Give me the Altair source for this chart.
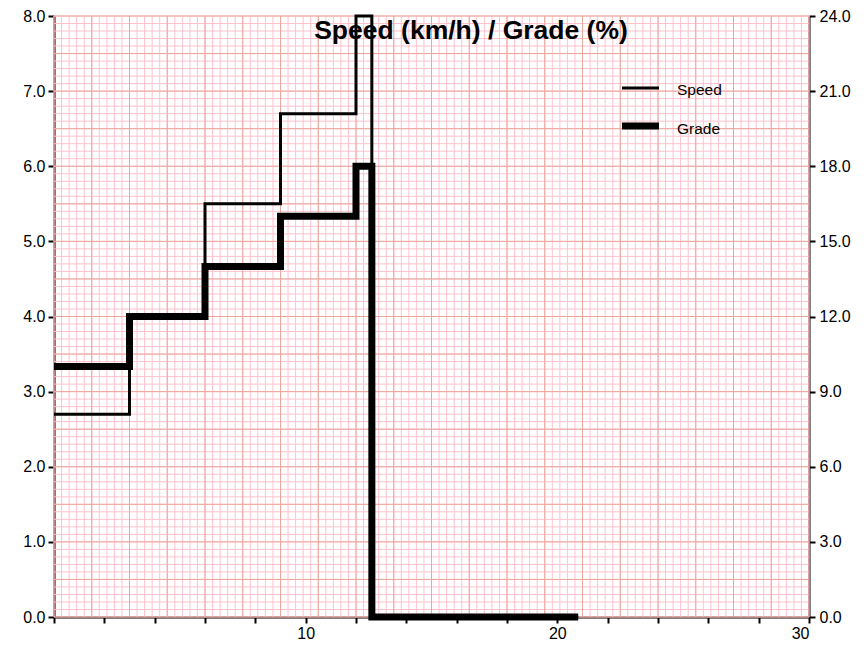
import altair as alt
import numpy as np
import pandas as pd

# ---- data ----
time_min = [0, 3, 6, 9, 12, 12.63, 20.83]
speed_kmh = [2.7, 4.0, 5.5, 6.7, 8.0, 0.0, 0.0]
grade_pct = [10, 12, 14, 16, 18, 0, 0]

x_tick_values = list(range(0, 31, 2))
speed_tick_values = [0, 1, 2, 3, 4, 5, 6, 7, 8]
grade_tick_values = [0, 3, 6, 9, 12, 15, 18, 21, 24]

title_text = "Speed (km/h) / Grade (%)"
legend_labels = ["Speed", "Grade"]

W, H = 755, 601
FONT = "Liberation Sans"

df = pd.DataFrame({"t": time_min, "speed": speed_kmh, "grade": grade_pct})

# graph-paper grid positions
vx_minor = pd.DataFrame({"v": np.round(np.arange(0, 30.0001, 0.3), 3)})
vx_major = pd.DataFrame({"v": np.round(np.arange(0, 30.0001, 1.5), 3)})
hy_minor = pd.DataFrame({"v": np.round(np.arange(0, 8.0001, 0.1), 3)})
hy_major = pd.DataFrame({"v": np.round(np.arange(0, 8.0001, 0.5), 3)})

xscale = alt.Scale(domain=[0, 30], nice=False, zero=False)
yscale_speed = alt.Scale(domain=[0, 8], nice=False)
yscale_grade = alt.Scale(domain=[0, 24], nice=False)

x_axis = alt.Axis(
    values=x_tick_values,
    labelExpr="(datum.value % 10 == 0 && datum.value > 0) ? datum.label : ''",
    format="d",
    title=None,
    grid=False,
    tickSize=6,
    tickWidth=2,
    tickColor="black",
    domainColor="black",
    domainWidth=2,
    labelFont=FONT,
    labelFontSize=16,
    labelColor="black",
    labelPadding=2,
)

MINOR = "#ffc2cd"
MAJOR = "#eba69c"

grid_vminor = alt.Chart(vx_minor).mark_rule(color=MINOR, strokeWidth=1).encode(
    x=alt.X("v:Q", scale=xscale, axis=x_axis)
)
grid_vmajor = alt.Chart(vx_major).mark_rule(color=MAJOR, strokeWidth=1).encode(
    x=alt.X("v:Q", scale=xscale, axis=x_axis)
)
grid_hminor = alt.Chart(hy_minor).mark_rule(color=MINOR, strokeWidth=1).encode(
    y=alt.Y("v:Q", scale=yscale_speed, axis=None)
)
grid_hmajor = alt.Chart(hy_major).mark_rule(color=MAJOR, strokeWidth=1).encode(
    y=alt.Y("v:Q", scale=yscale_speed, axis=None)
)

speed_line = alt.Chart(df).mark_line(
    color="black", strokeWidth=3, interpolate="step-after", strokeJoin="miter", strokeCap="butt"
).encode(
    x=alt.X("t:Q", scale=xscale, axis=x_axis),
    y=alt.Y(
        "speed:Q",
        scale=yscale_speed,
        axis=alt.Axis(
            orient="left",
            values=speed_tick_values,
            format=".1f",
            title=None,
            grid=False,
            tickSize=6,
            tickWidth=2,
            tickColor="black",
            domainColor="black",
            domainWidth=2,
            labelFont=FONT,
            labelFontSize=16,
            labelColor="black",
            labelPadding=3,
        ),
    ),
)

grade_line = alt.Chart(df).mark_line(
    color="black", strokeWidth=7, interpolate="step-after", strokeJoin="miter", strokeCap="butt"
).encode(
    x=alt.X("t:Q", scale=xscale, axis=x_axis),
    y=alt.Y(
        "grade:Q",
        scale=yscale_grade,
        axis=alt.Axis(
            orient="right",
            values=grade_tick_values,
            format=".1f",
            title=None,
            grid=False,
            tickSize=6,
            tickWidth=2,
            tickColor="black",
            domainColor="black",
            domainWidth=2,
            labelFont=FONT,
            labelFontSize=16,
            labelColor="black",
            labelPadding=4,
        ),
    ),
)

title_mark = alt.Chart(pd.DataFrame({"txt": [title_text]})).mark_text(
    font=FONT, fontSize=26.5, fontWeight="bold", color="black", align="center", baseline="alphabetic"
).encode(text="txt:N", x=alt.value(417), y=alt.value(23))

# legend
leg_speed_sym = alt.Chart(pd.DataFrame({"a": [0]})).mark_rule(color="black", strokeWidth=3).encode(
    x=alt.value(568), x2=alt.value(605), y=alt.value(72)
)
leg_grade_sym = alt.Chart(pd.DataFrame({"a": [0]})).mark_rule(color="black", strokeWidth=7).encode(
    x=alt.value(568), x2=alt.value(605), y=alt.value(110)
)
leg_speed_txt = alt.Chart(pd.DataFrame({"txt": [legend_labels[0]]})).mark_text(
    font=FONT, fontSize=15.5, color="black", align="left", baseline="middle"
).encode(text="txt:N", x=alt.value(623), y=alt.value(74))
leg_grade_txt = alt.Chart(pd.DataFrame({"txt": [legend_labels[1]]})).mark_text(
    font=FONT, fontSize=15.5, color="black", align="left", baseline="middle"
).encode(text="txt:N", x=alt.value(623), y=alt.value(112.5))

chart = (
    alt.layer(
        grid_vminor,
        grid_hminor,
        grid_vmajor,
        grid_hmajor,
        speed_line,
        grade_line,
        title_mark,
        leg_speed_sym,
        leg_grade_sym,
        leg_speed_txt,
        leg_grade_txt,
    )
    .resolve_scale(y="independent")
    .properties(
        width=W,
        height=H,
        autosize=alt.AutoSizeParams(type="none"),
        padding={"left": 46, "top": 8, "right": 50, "bottom": 30},
        background="white",
    )
    .configure_view(stroke=None)
)

chart.save("out.html", embed_options={"renderer": "svg", "actions": False})
